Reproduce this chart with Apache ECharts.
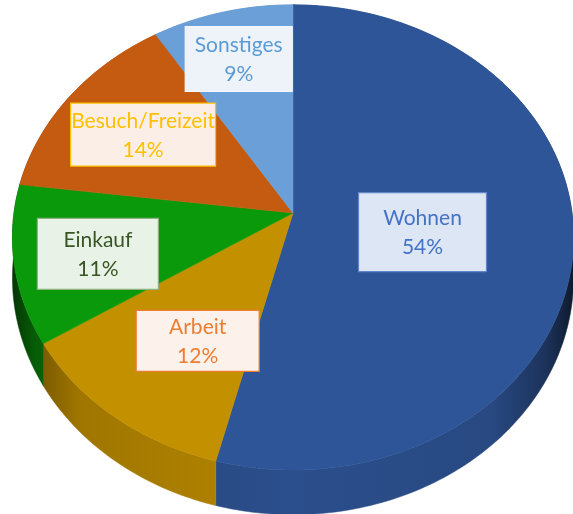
<!DOCTYPE html>
<html><head><meta charset="utf-8">
<script src="https://cdn.jsdelivr.net/npm/echarts@6/dist/echarts.min.js"></script>
<style>html,body{margin:0;padding:0;background:#fff}#c{width:573px;height:514px}</style>
</head><body><div id="c"></div>
<script>
const categories = ['Wohnen', 'Arbeit', 'Einkauf', 'Besuch/Freizeit', 'Sonstiges'];
const shares = [54, 12, 11, 14, 9];

const sliceColors = ['#2E5597', '#C39000', '#0A990A', '#C55A11', '#6A9FD8'];
const labelText = ['#4472C4', '#ED7D31', '#375623', '#FFC000', '#5B9BD5'];
const labelFill = ['#DCE6F4', '#FCF2EB', '#E8F2E6', '#FBEEE6', '#EEF3FA'];
const labelBorder = ['#5F86C8', '#ED7D31', '#8DB381', '#FFC000', '#F4F7FC'];
const labelBox = [[128, 79], [123, 61], [121, 71], [145, 63], [107, 65]];
const labelRadius = [0.49, 0.62, 0.705, 0.66, 0.75];
const labelNudge = [[-7, 5], [12, 6], [0, 5], [0, 0], [0, 0]];

const geo = { cx: 293, cy: 213, A: 279, B: 230, p: 0.105, depth: 40 };
const total = shares.reduce((a, b) => a + b, 0);

function proj(theta, f) {
  const u = Math.sin(theta) * f, v = -Math.cos(theta) * f;
  const d = 1 - geo.p * v;
  return [geo.cx + geo.A * u / d, geo.cy + geo.B * v / d, d];
}
function angles(i) {
  let s = 0;
  for (let k = 0; k < i; k++) s += shares[k];
  const a0 = s / total * Math.PI * 2;
  const a1 = (s + shares[i]) / total * Math.PI * 2;
  return [a0, a1];
}
function arc(a0, a1) {
  const n = Math.max(2, Math.ceil((a1 - a0) / (Math.PI / 180)));
  const pts = [];
  for (let k = 0; k <= n; k++) pts.push(proj(a0 + (a1 - a0) * k / n, 1));
  return pts;
}
function shade(hex, f) {
  const n = parseInt(hex.slice(1), 16);
  const r = Math.round(((n >> 16) & 255) * f), g = Math.round(((n >> 8) & 255) * f), b = Math.round((n & 255) * f);
  return 'rgb(' + r + ',' + g + ',' + b + ')';
}

const data = shares.map((v, i) => ({ name: categories[i], value: v }));

function renderWall(params, api) {
  const i = params.dataIndex;
  const [a0, a1] = angles(i);
  const top = arc(a0, a1);
  const pts = top.map(p => [p[0], p[1]]);
  for (let k = top.length - 1; k >= 0; k--) pts.push([top[k][0], top[k][1] + geo.depth / top[k][2]]);
  const c = sliceColors[i];
  const grad = new echarts.graphic.LinearGradient(12, 0, 574, 0, [
    { offset: 0, color: shade(c, 0.35) },
    { offset: 0.04, color: shade(c, 0.6) },
    { offset: 0.12, color: shade(c, 0.82) },
    { offset: 0.5, color: shade(c, 0.93) },
    { offset: 0.85, color: shade(c, 0.86) },
    { offset: 0.95, color: shade(c, 0.6) },
    { offset: 1, color: shade(c, 0.3) }
  ], true);
  return { type: 'polygon', shape: { points: pts }, style: { fill: grad, stroke: grad, lineWidth: 0.5 } };
}
function renderTop(params, api) {
  const i = params.dataIndex;
  const [a0, a1] = angles(i);
  const pts = [[geo.cx, geo.cy]].concat(arc(a0, a1).map(p => [p[0], p[1]]));
  return { type: 'polygon', shape: { points: pts }, style: { fill: sliceColors[i], stroke: sliceColors[i], lineWidth: 0.6 } };
}
function renderLabel(params, api) {
  const i = params.dataIndex;
  const [a0, a1] = angles(i);
  const p = proj((a0 + a1) / 2, labelRadius[i]);
  const x = p[0] + labelNudge[i][0], y = p[1] + labelNudge[i][1];
  const w = labelBox[i][0], h = labelBox[i][1];
  const pct = Math.round(api.value(0) / total * 100) + '%';
  return {
    type: 'group',
    children: [
      { type: 'rect', shape: { x: x - w / 2, y: y - h / 2, width: w, height: h },
        style: { fill: labelFill[i], stroke: labelBorder[i], lineWidth: 1.2 } },
      { type: 'text', style: { text: categories[i] + '\n' + pct, x: x, y: y + 1,
        align: 'center', verticalAlign: 'middle', fill: labelText[i],
        font: '21px Lato', lineHeight: 29 } }
    ]
  };
}

const chart = echarts.init(document.getElementById('c'), null, { renderer: 'canvas' });
chart.setOption({
  animation: false,
  backgroundColor: '#ffffff',
  series: [
    { type: 'custom', name: 'wall', coordinateSystem: 'none', renderItem: renderWall, data: data, z: 1, silent: true },
    { type: 'custom', name: 'top', coordinateSystem: 'none', renderItem: renderTop, data: data, z: 2, silent: true },
    { type: 'custom', name: 'labels', coordinateSystem: 'none', renderItem: renderLabel, data: data, z: 3, silent: true }
  ]
});
</script>
</body></html>
